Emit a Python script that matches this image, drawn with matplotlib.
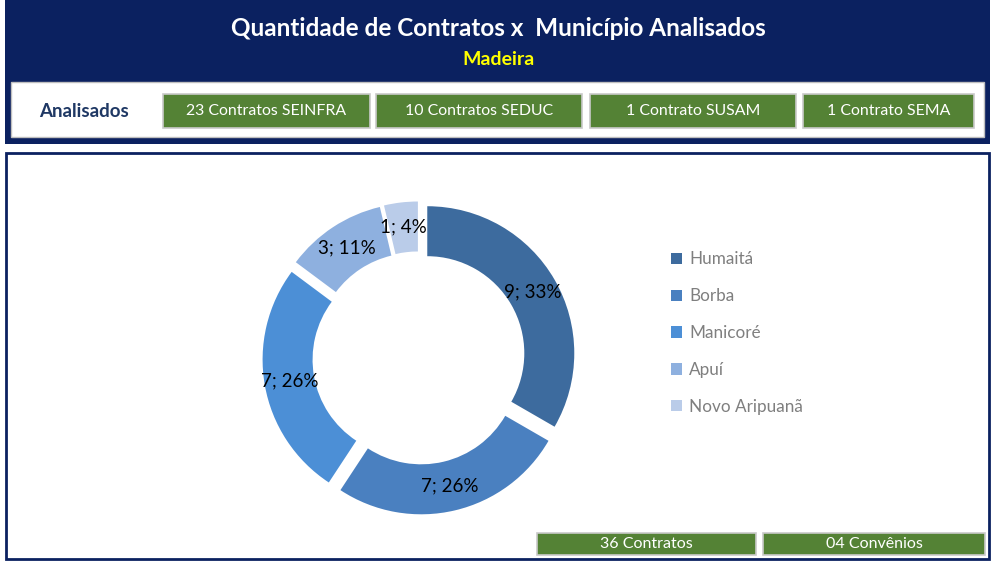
#!/usr/bin/env python3
import matplotlib.pyplot as plt
from matplotlib.patches import Rectangle

# Data
municipios = ["Humaitá", "Borba", "Manicoré", "Apuí", "Novo Aripuanã"]
contratos = [9, 7, 7, 3, 1]
cores = ["#3D6B9E", "#4A80C0", "#4C8FD6", "#8EB0DF", "#BACCE9"]

secretarias = ["23 Contratos SEINFRA", "10 Contratos SEDUC", "1 Contrato SUSAM", "1 Contrato SEMA"]
totais = ["36 Contratos", "04 Convênios"]

titulo = "Quantidade de Contratos x  Município Analisados"
subtitulo = "Madeira"

NAVY = "#0B2160"
GREEN = "#548235"
W, H = 992, 561

plt.rcParams["font.family"] = ["Lato", "DejaVu Sans"]

fig = plt.figure(figsize=(W / 100, H / 100), dpi=100)
fig.patch.set_facecolor("white")

# background axes in pixel coordinates
bg = fig.add_axes([0, 0, 1, 1])
bg.set_xlim(0, W)
bg.set_ylim(H, 0)
bg.axis("off")

# header
bg.add_patch(Rectangle((5, 0), 985, 144, facecolor=NAVY, edgecolor="none"))
bg.add_patch(Rectangle((11, 82), 973, 55, facecolor="white", edgecolor="#BFBFBF", lw=1))
bg.text(498, 28, titulo, color="white", fontsize=17.5, fontweight="bold", ha="center", va="center")
bg.text(498, 59, subtitulo, color="#FFFF00", fontsize=14, fontweight="bold", ha="center", va="center")
bg.text(84, 111, "Analisados", color="#1F3864", fontsize=13.5, fontweight="bold", ha="center", va="center")

box_x = [(163, 370), (376, 582), (590, 796), (803, 974)]
for (x0, x1), txt in zip(box_x, secretarias):
    bg.add_patch(Rectangle((x0, 94), x1 - x0, 34, facecolor=GREEN, edgecolor="#C9C9C9", lw=1.2))
    bg.text((x0 + x1) / 2, 111, txt, color="white", fontsize=11.4, ha="center", va="center")

# bottom panel
bg.add_patch(Rectangle((6, 153), 983, 406, facecolor="white", edgecolor=NAVY, lw=2))
tot_x = [(537, 756), (763, 985)]
for (x0, x1), txt in zip(tot_x, totais):
    bg.add_patch(Rectangle((x0, 533), x1 - x0, 22, facecolor=GREEN, edgecolor="#C9C9C9", lw=1.2))
    bg.text((x0 + x1) / 2, 544.5, txt, color="white", fontsize=11.5, ha="center", va="center")

# donut
cx, cy, half = 419, 358, 175
ax = fig.add_axes([(cx - half) / W, (H - cy - half) / H, 2 * half / W, 2 * half / H])
total = sum(contratos)
wedges, texts, autotexts = ax.pie(
    contratos,
    colors=cores,
    startangle=90,
    counterclock=False,
    explode=[0.065] * len(contratos),
    radius=1,
    wedgeprops=dict(width=0.34, edgecolor="none"),
    autopct=lambda p: f"{round(p * total / 100)}; {p:.0f}%",
    pctdistance=0.83,
    textprops=dict(fontsize=13.5, color="black"),
)
lim = half / 147
ax.set_xlim(-lim, lim)
ax.set_ylim(-lim, lim)
ax.set_aspect("equal")
ax.axis("off")

fig.legend(
    wedges,
    municipios,
    loc="upper left",
    bbox_to_anchor=(656 / W, 1 - 236 / H),
    frameon=False,
    fontsize=12.3,
    labelcolor="#7F7F7F",
    handlelength=0.65,
    handleheight=0.65,
    handletextpad=0.4,
    labelspacing=1.22,
)

fig.savefig("out.png", dpi=100)
